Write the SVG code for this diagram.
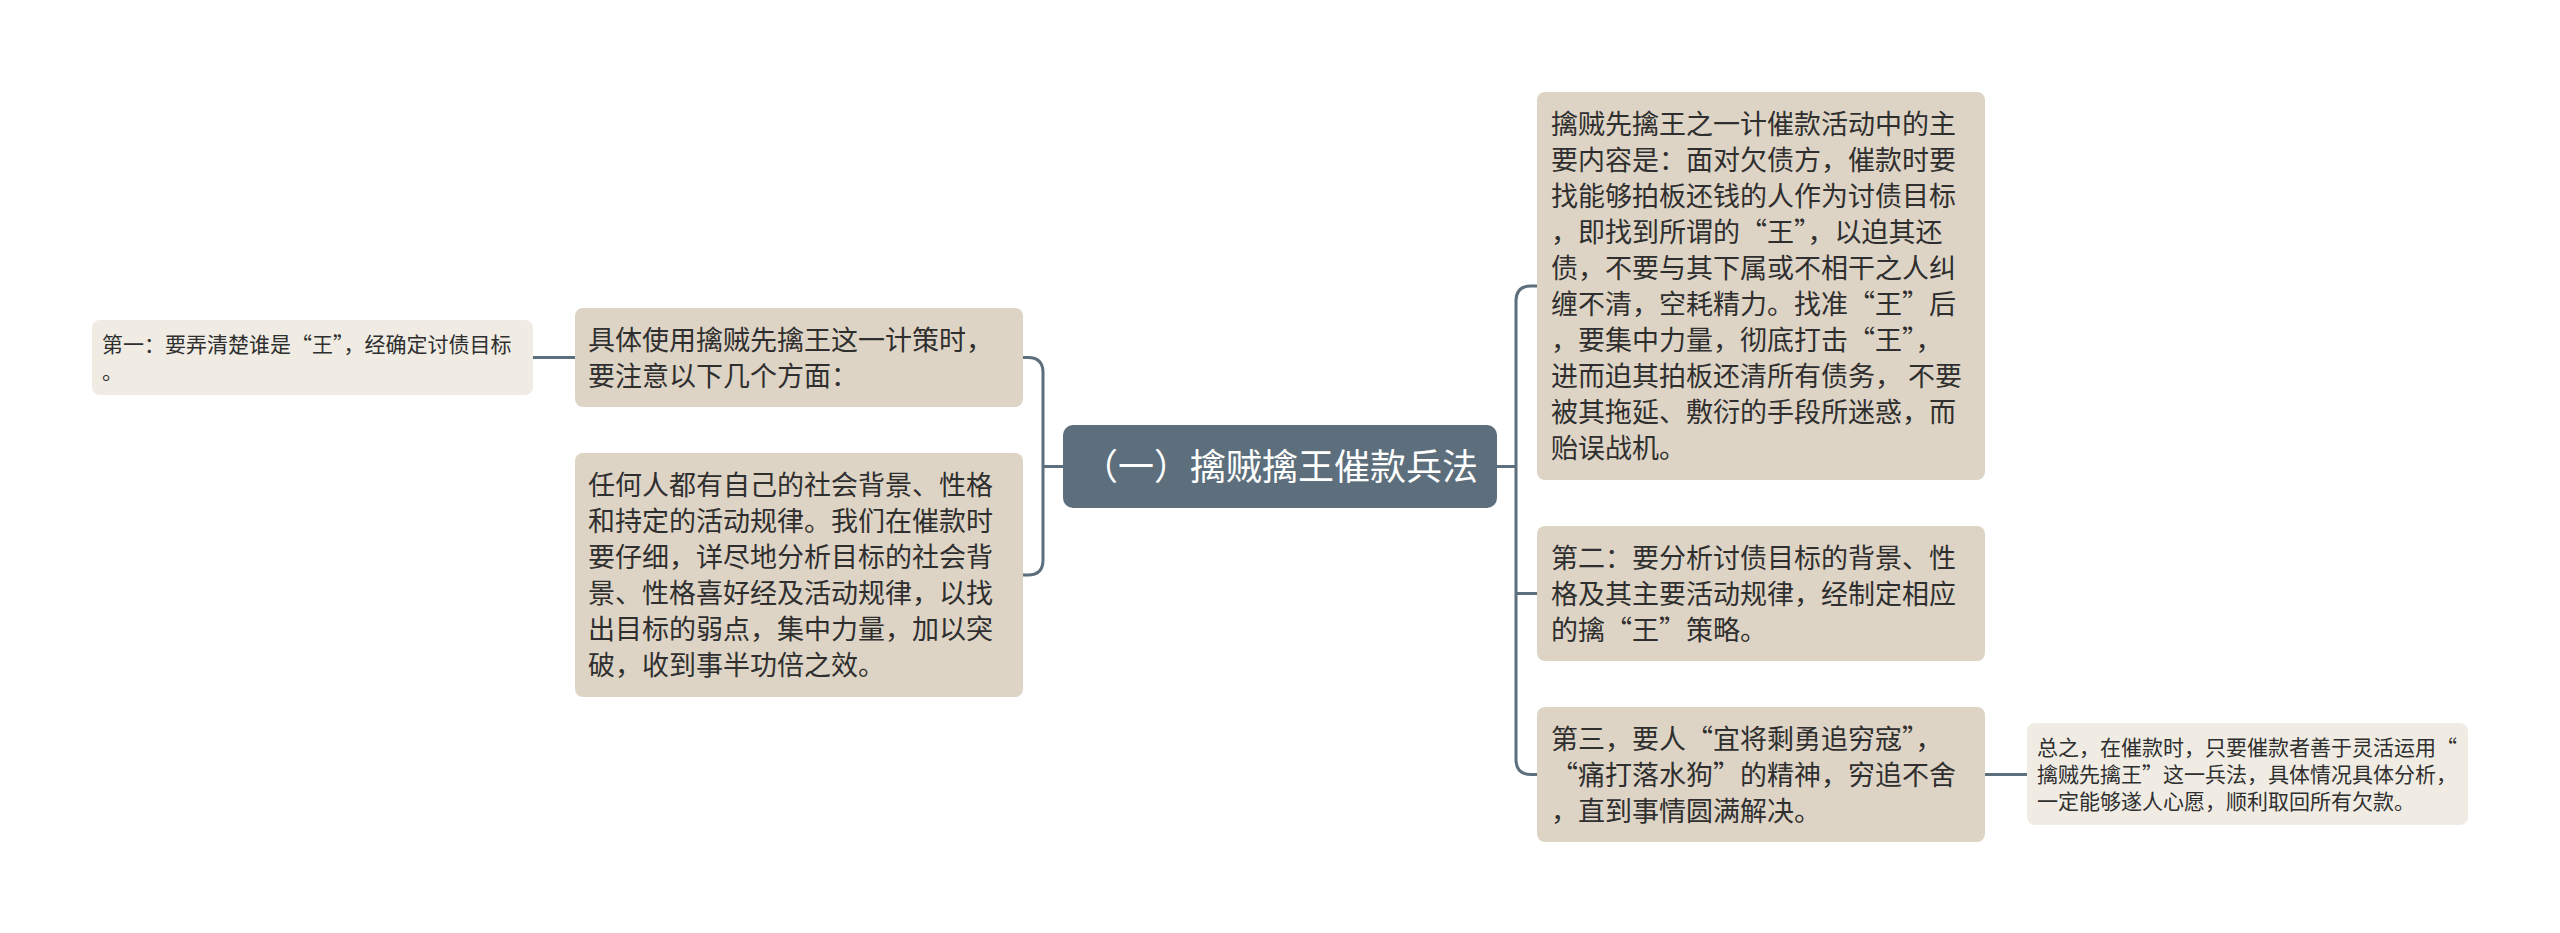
<svg xmlns="http://www.w3.org/2000/svg" width="2560" height="933" viewBox="0 0 2560 933">
<style>
.main{fill:#ded4c5}
.small{fill:#f0ece4}
.root{fill:#5d6f7c}
.t{font-family:"Noto Sans CJK SC","Noto Sans",sans-serif;fill:#2f2f2f}
.t27{font-size:27px}
.t21{font-size:21px}
.rt{font-family:"Noto Sans CJK SC","Noto Sans",sans-serif;font-size:36px;fill:#ffffff}
.c{fill:none;stroke:#5d6f7c;stroke-width:3}
</style>
<rect width="2560" height="933" fill="#ffffff"/>
<g id="connectors">
<path class="c" d="M533,357.5 H575"/>
<path class="c" d="M1023,357.5 H1028 Q1043,357.5 1043,372.5 V560 Q1043,575 1028,575 H1023"/>
<path class="c" d="M1043,466.5 H1063"/>
<path class="c" d="M1497,466.5 H1516"/>
<path class="c" d="M1537,286 H1531 Q1516,286 1516,301 V759.5 Q1516,774.5 1531,774.5 H1537"/>
<path class="c" d="M1516,593.5 H1537"/>
<path class="c" d="M1985,774.5 H2027"/>
</g>
<g id="root">
<rect class="root" x="1063" y="425" width="434" height="83" rx="10"/>
<text class="rt" x="1280" y="480" text-anchor="middle">（一）擒贼擒王催款兵法</text>
</g>
<g id="node-juti">
<rect class="main" x="575" y="308" width="448" height="99" rx="8"/>
<text class="t t27" x="588"><tspan x="588" y="350">具体使用擒贼先擒王这一计策时，</tspan><tspan x="588" y="386">要注意以下几个方面：</tspan></text>
</g>
<g id="node-diyi">
<rect class="small" x="92" y="320" width="441" height="75" rx="8"/>
<text class="t t21" x="102"><tspan x="102" y="352">第一：要弄清楚谁是“王”，经确定讨债目标</tspan><tspan x="102" y="379">。</tspan></text>
</g>
<g id="node-renhe">
<rect class="main" x="575" y="453" width="448" height="244" rx="8"/>
<text class="t t27"><tspan x="588" y="495">任何人都有自己的社会背景、性格</tspan><tspan x="588" y="531">和持定的活动规律。我们在催款时</tspan><tspan x="588" y="567">要仔细，详尽地分析目标的社会背</tspan><tspan x="588" y="603">景、性格喜好经及活动规律，以找</tspan><tspan x="588" y="639">出目标的弱点，集中力量，加以突</tspan><tspan x="588" y="675">破，收到事半功倍之效。</tspan></text>
</g>
<g id="node-qinzei">
<rect class="main" x="1537" y="92" width="448" height="388" rx="8"/>
<text class="t t27"><tspan x="1551" y="134">擒贼先擒王之一计催款活动中的主</tspan><tspan x="1551" y="170">要内容是：面对欠债方，催款时要</tspan><tspan x="1551" y="206">找能够拍板还钱的人作为讨债目标</tspan><tspan x="1551" y="242">，即找到所谓的“王”，以迫其还</tspan><tspan x="1551" y="278">债，不要与其下属或不相干之人纠</tspan><tspan x="1551" y="314">缠不清，空耗精力。找准“王”后</tspan><tspan x="1551" y="350">，要集中力量，彻底打击“王”，</tspan><tspan x="1551" y="386">进而迫其拍板还清所有债务， 不要</tspan><tspan x="1551" y="422">被其拖延、敷衍的手段所迷惑，而</tspan><tspan x="1551" y="458">贻误战机。</tspan></text>
</g>
<g id="node-dier">
<rect class="main" x="1537" y="526" width="448" height="135" rx="8"/>
<text class="t t27"><tspan x="1551" y="568">第二：要分析讨债目标的背景、性</tspan><tspan x="1551" y="604">格及其主要活动规律，经制定相应</tspan><tspan x="1551" y="640">的擒“王”策略。</tspan></text>
</g>
<g id="node-disan">
<rect class="main" x="1537" y="707" width="448" height="135" rx="8"/>
<text class="t t27"><tspan x="1551" y="749">第三，要人“宜将剩勇追穷寇”，</tspan><tspan x="1551" y="785">“痛打落水狗”的精神，穷追不舍</tspan><tspan x="1551" y="821">，直到事情圆满解决。</tspan></text>
</g>
<g id="node-zongzhi">
<rect class="small" x="2027" y="723" width="441" height="102" rx="8"/>
<text class="t t21"><tspan x="2037" y="755">总之，在催款时，只要催款者善于灵活运用“</tspan><tspan x="2037" y="782">擒贼先擒王”这一兵法，具体情况具体分析，</tspan><tspan x="2037" y="809">一定能够遂人心愿，顺利取回所有欠款。</tspan></text>
</g>
</svg>
